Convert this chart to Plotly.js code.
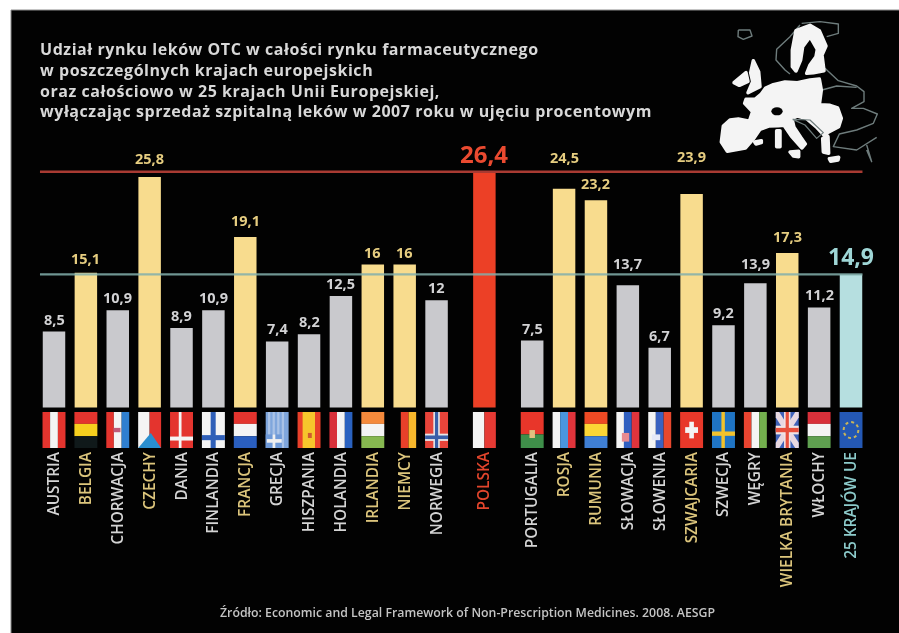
<!DOCTYPE html>
<html>
<head>
<meta charset="utf-8">
<script src="https://cdn.plot.ly/plotly-3.0.1.min.js"></script>
<style>html,body{margin:0;padding:0;background:#fff}#chart{width:899px;height:633px;filter:blur(0.75px)}.gtitle{letter-spacing:0.55px}.shapelayer path{stroke-linejoin:round}</style>
</head>
<body>
<div id="chart"></div>
<script>
var countries = ['AUSTRIA','BELGIA','CHORWACJA','CZECHY','DANIA','FINLANDIA','FRANCJA','GRECJA','HISZPANIA','HOLANDIA','IRLANDIA','NIEMCY','NORWEGIA','POLSKA','PORTUGALIA','ROSJA','RUMUNIA','SŁOWACJA','SŁOWENIA','SZWAJCARIA','SZWECJA','WĘGRY','WIELKA BRYTANIA','WŁOCHY','25 KRAJÓW UE'];
var values = [8.5,15.1,10.9,25.8,8.9,10.9,19.1,7.4,8.2,12.5,16,16,12,26.4,7.5,24.5,23.2,13.7,6.7,23.9,9.2,13.9,17.3,11.2,14.9];
var groups = ['g','y','g','y','g','g','y','g','g','g','y','y','g','r','g','y','y','g','g','y','g','g','y','g','t'];
var titleLines = ['Udział rynku leków OTC w całości rynku farmaceutycznego','w poszczególnych krajach europejskich','oraz całościowo w 25 krajach Unii Europejskiej,','wyłączając sprzedaż szpitalną leków w 2007 roku w ujęciu procentowym'];
var source = 'Źródło: Economic and Legal Framework of Non-Prescription Medicines. 2008. AESGP';
var polandValue = 26.4, euValue = 14.9;

var W=899,H=633,PLOT_H=448,X0=54,DX=31.88,Y0=407.5,SY=8.93;
var barColor={g:'#c9c9cd',y:'#f8dc8e',r:'#ec4026',t:'#b6dfe0'};
var labelColor={g:'#d2d2d4',y:'#e6cd80',r:'#ea4a30',t:'#9fd6d6'};
var tickColor={g:'#d4d4d4',y:'#dcc57c',r:'#e2452c',t:'#8ccaca'};
var labelLift={'ROSJA':19,'SZWAJCARIA':25,'CZECHY':6,'POLSKA':-1,'25 KRAJÓW UE':-1,'SŁOWACJA':9,'WĘGRY':7,'BELGIA':2,'FRANCJA':4,'RUMUNIA':4,'WIELKA BRYTANIA':4};
var labelSize={'POLSKA':24,'25 KRAJÓW UE':23};

var xs=countries.map(function(c,i){return i<13?i:(i===13?13.5:i+1);});
var xr=[-X0/DX,(W-X0)/DX], yr=[-(PLOT_H-Y0)/SY,Y0/SY];

var RED='#e4342e',WHT='#f4f4f4',YEL='#f6c52c';
function V(a,b,c){return [['r',0,0,.33,1,a],['r',.33,0,.67,1,b],['r',.67,0,1,1,c]];}
function Hz(a,b,c){return [['r',0,0,1,.33,a],['r',0,.33,1,.67,b],['r',0,.67,1,1,c]];}
var flags={
 'AUSTRIA':V(RED,WHT,RED),
 'BELGIA':Hz(RED,'#f6cf1e','#10191a'),
 'CHORWACJA':V(RED,WHT,'#2f7fd0').concat([['r',.32,.44,.62,.56,'#c05a78']]),
 'CZECHY':[['r',0,0,.5,1,WHT],['r',.5,0,1,1,RED],['p',[[0,1],[.55,.58],[1,1]],'#2a8fd0']],
 'DANIA':[['r',0,0,1,1,RED],['r',.38,0,.5,1,WHT],['r',0,.68,1,.79,WHT]],
 'FINLANDIA':[['r',0,0,1,1,WHT],['r',.38,0,.6,1,'#2f5fb8'],['r',0,.64,1,.78,'#2f5fb8']],
 'FRANCJA':Hz(RED,WHT,'#2a5fc0'),
 'GRECJA':[['r',0,0,1,1,'#7fa6dc'],['r',.1,0,.2,1,'#a9c2e6'],['r',.3,0,.4,1,'#a9c2e6'],['r',.5,0,.6,1,'#a9c2e6'],['r',.7,0,.8,1,'#a9c2e6'],['r',0,.62,.7,1,'#6f9ad8'],['r',.3,.62,.42,1,'#f0f0f0'],['r',.05,.75,.7,.85,'#f0f0f0']],
 'HISZPANIA':[['r',0,0,1,1,'#e8402a'],['r',.22,0,.76,1,YEL],['r',.45,.58,.62,.72,'#d05a30']],
 'HOLANDIA':V('#d8303a',WHT,'#2a62c0'),
 'IRLANDIA':Hz('#f58a3c',WHT,'#86b850'),
 'NIEMCY':[['r',.33,0,.67,1,'#e8402a'],['r',.67,0,1,1,'#f8b82c']],
 'NORWEGIA':[['r',0,0,1,1,'#e8443a'],['r',.36,0,.64,1,'#e8e8e8'],['r',0,.6,1,.8,'#e8e8e8'],['r',.43,0,.57,1,'#3a5fa8'],['r',0,.65,1,.75,'#3a5fa8']],
 'POLSKA':[['r',0,0,.5,1,WHT],['r',.5,0,1,1,'#e63a34']],
 'PORTUGALIA':[['r',0,0,1,.62,'#e8362a'],['r',0,.62,1,1,'#3f8f4a'],['r',.38,.5,.62,.72,'#e0c080']],
 'ROSJA':V(WHT,'#4a96e0','#e0343c'),
 'RUMUNIA':Hz('#ee4a24','#fbd635','#3f7fd4'),
 'SŁOWACJA':[['r',0,0,.33,1,WHT],['r',.33,0,.67,1,'#2f5fc0'],['r',.67,0,1,1,'#e0343c'],['r',.24,.58,.56,.82,'#e88a90']],
 'SŁOWENIA':[['r',0,0,.33,1,WHT],['r',.33,0,.67,1,'#3a62c0'],['r',.67,0,1,1,'#e8482e'],['r',.16,.62,.52,.78,'#e4e8f8']],
 'SZWAJCARIA':[['r',0,0,1,1,'#e8382a'],['r',.4,.27,.6,.73,WHT],['r',.22,.42,.78,.58,WHT]],
 'SZWECJA':[['r',0,0,1,1,'#1f74c4'],['r',.41,0,.56,1,'#f2c22c'],['r',0,.54,1,.66,'#f2c22c']],
 'WĘGRY':V('#ea4430',WHT,'#74b04e'),
 'WIELKA BRYTANIA':[['r',0,0,1,1,'#3f62b8'],['p',[[0,0],[.15,0],[1,.85],[1,1],[.85,1],[0,.15]],'#e8d8e0'],['p',[[1,0],[.85,0],[0,.85],[0,1],[.15,1],[1,.15]],'#e8d8e0'],['r',.36,0,.64,1,'#f0e4e4'],['r',0,.38,1,.62,'#f0e4e4'],['r',.43,0,.57,1,'#e8503c'],['r',0,.44,1,.56,'#e8503c']],
 'WŁOCHY':Hz('#d8303a',WHT,'#5fa050'),
 '25 KRAJÓW UE':[['r',0,0,1,1,'#2458b4'],['c',.18,.28,.82,.72,'#c8b45a']]
};
var shapes=[];
shapes.push({type:'rect',xref:'paper',yref:'paper',x0:11/W,x1:1.01,y0:1-(H+2)/PLOT_H,y1:1-10/PLOT_H,fillcolor:'#020202',line:{color:'#8a8a8a',width:1},layer:'below'});
var FLAG_TOP=-0.5,FLAG_BOT=-4.55,FLAG_W=0.72;
countries.forEach(function(c,i){
  function fx(u){return xs[i]+(u-.5)*FLAG_W;}
  function fy(v){return FLAG_TOP+(FLAG_BOT-FLAG_TOP)*v;}
  (flags[c]||[]).forEach(function(s){
    if(s[0]==='r') shapes.push({type:'rect',xref:'x',yref:'y',x0:fx(s[1]),x1:fx(s[3]),y0:fy(s[2]),y1:fy(s[4]),fillcolor:s[5],line:{width:0}});
    else if(s[0]==='p') shapes.push({type:'path',xref:'x',yref:'y',path:'M'+s[1].map(function(p){return fx(p[0])+','+fy(p[1]);}).join('L')+'Z',fillcolor:s[2],line:{width:0}});
    else if(s[0]==='c') shapes.push({type:'circle',xref:'x',yref:'y',x0:fx(s[1]),x1:fx(s[3]),y0:fy(s[2]),y1:fy(s[4]),line:{color:s[5],width:2,dash:'dot'}});
  });
});
function mp(pts,close){return 'M'+pts.map(function(p){return ((710+p[0]/3)/W)+','+(1-(10+p[1]/3)/PLOT_H);}).join('L')+(close?'Z':'');}
var outlines=[
 [[85,60],[120,60],[126,78],[100,88],[84,80],[85,60]],
 [[270,45],[240,80],[200,118],[198,150],[225,180],[240,192]],
 [[275,40],[330,35],[385,42],[385,70],[350,80]],
 [[345,175],[385,212],[440,228],[462,245],[462,275],[425,295],[460,295],[502,312],[490,340],[440,360],[388,372],[370,410],[440,420],[500,382]],
 [[336,240],[380,228],[440,232]],
 [[470,405],[485,455],[470,420]]
];
outlines.forEach(function(p){shapes.push({type:'path',xref:'paper',yref:'paper',path:mp(p,false),line:{color:'#6e7c7c',width:1.4}});});
var landW=[
 [[40,348],[60,330],[85,327],[118,334],[128,305],[104,280],[108,268],[135,268],[154,252],[167,234],[190,224],[225,216],[262,218],[300,210],[328,207],[334,240],[328,284],[360,286],[383,294],[394,325],[386,350],[352,368],[346,380],[318,350],[290,326],[262,318],[246,326],[252,352],[272,382],[286,402],[276,414],[244,378],[222,346],[205,347],[176,348],[150,358],[132,384],[106,414],[52,424],[34,396]],
 [[258,62],[300,46],[328,62],[348,108],[336,135],[342,182],[310,188],[290,190],[300,165],[318,140],[322,118],[300,80],[278,110],[272,150],[258,183],[247,170],[247,120]],
 [[130,152],[146,185],[150,230],[114,248],[128,215],[122,188]],
 [[72,218],[108,188],[114,214],[88,226]],
 [[200,362],[210,362],[210,410],[200,410]],
 [[240,426],[266,424],[266,440],[250,438]],
 [[134,396],[154,392],[154,398],[138,402]],
 [[358,446],[386,442],[384,450],[362,454]],
 [[338,385],[354,380],[356,430],[340,426]]
];
landW.forEach(function(p){shapes.push({type:'path',xref:'paper',yref:'paper',path:mp(p,true),fillcolor:'#f4f4f4',line:{color:'#f4f4f4',width:3.5}});});
shapes.push({type:'path',xref:'paper',yref:'paper',path:mp([[248,328],[300,330],[340,368],[320,385],[285,345],[248,328]],false),line:{color:'#6e7c7c',width:1.2}});
shapes.push({type:'circle',xref:'paper',yref:'paper',x0:(710+184/3)/W,x1:(710+218/3)/W,y0:1-(10+316/3)/PLOT_H,y1:1-(10+292/3)/PLOT_H,fillcolor:'#020202',line:{width:0}});

var annotations=countries.map(function(c,i){
  return {x:xs[i],y:values[i],xref:'x',yref:'y',text:String(values[i]).replace('.',','),showarrow:false,xanchor:'center',yanchor:'bottom',yshift:(labelLift[c]||0)+2,borderpad:0,
    font:{family:'Open Sans, sans-serif',size:labelSize[c]||14.5,weight:700,color:labelColor[groups[i]]}};
});
annotations.push({xref:'paper',yref:'paper',x:468/W,y:1-612/PLOT_H,text:source,showarrow:false,xanchor:'center',yanchor:'middle',font:{family:'Open Sans, sans-serif',size:12.3,weight:600,color:'#c4c4c4'}});

var bars={type:'bar',x:xs,y:values,width:0.705,marker:{color:groups.map(function(g){return barColor[g];})},hoverinfo:'skip',customdata:countries};
var lineRed={type:'scatter',mode:'lines',x:[-0.44,25.36],y:[polandValue,polandValue],line:{color:'#a83a32',width:2.6},hoverinfo:'skip'};
var lineTeal={type:'scatter',mode:'lines',x:[-0.44,25.36],y:[euValue,euValue],line:{color:'rgba(130,175,172,0.85)',width:2.2},hoverinfo:'skip'};

var layout={width:W,height:H,margin:{l:0,r:0,t:0,b:H-PLOT_H,pad:0},paper_bgcolor:'#ffffff',plot_bgcolor:'rgba(0,0,0,0)',showlegend:false,
 title:{text:titleLines.join('<br>'),x:40/W,xanchor:'left',xref:'container',y:1-55/H,yanchor:'top',yref:'container',font:{family:'Open Sans, sans-serif',size:16,weight:700,color:'#d8d8d8'},automargin:false},
 xaxis:{range:xr,tickmode:'array',tickvals:xs,ticktext:countries.map(function(c,i){return '<span style="color:'+tickColor[groups[i]]+'">'+c+'</span>';}),tickangle:-90,ticklen:0,showgrid:false,zeroline:false,showline:false,fixedrange:true,tickfont:{family:'Open Sans, sans-serif',size:15.4,weight:600,color:'#d4d4d4'}},
 yaxis:{range:yr,visible:false,showgrid:false,zeroline:false,fixedrange:true},
 shapes:shapes,annotations:annotations};
Plotly.newPlot('chart',[bars,lineRed,lineTeal],layout,{displayModeBar:false,staticPlot:true});
</script>
</body>
</html>
